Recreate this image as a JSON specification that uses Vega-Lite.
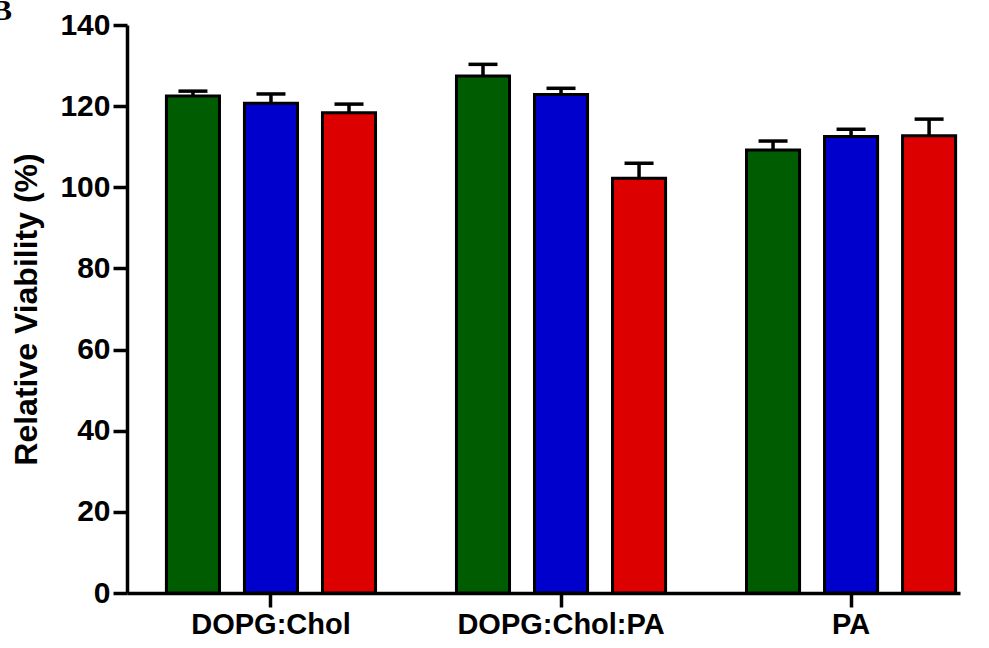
{
  "$schema": "https://vega.github.io/schema/vega-lite/v6.json",
  "autosize": {"type": "none"},
  "padding": {"left": 127, "top": 25, "right": 29, "bottom": 55},
  "width": 833,
  "height": 568,
  "background": "white",
  "title": {
    "text": "B",
    "anchor": "start",
    "frame": "group",
    "dx": -135,
    "dy": 40,
    "offset": 0,
    "baseline": "alphabetic",
    "font": "Liberation Serif",
    "fontSize": 30,
    "fontWeight": "bold",
    "color": "black"
  },
  "config": {
    "view": {"stroke": null},
    "axis": {
      "labelFont": "Liberation Sans",
      "labelFontWeight": "bold",
      "labelColor": "black",
      "labelLimit": 0,
      "titleFont": "Liberation Sans",
      "titleFontWeight": "bold",
      "titleColor": "black",
      "titleLimit": 0,
      "domainColor": "black",
      "domainWidth": 3.5,
      "tickColor": "black",
      "tickWidth": 3.5,
      "grid": false
    }
  },
  "data": {
    "values": [
      {"group": "DOPG:Chol", "bar": "1", "mean": 122.5, "upper": 123.7},
      {"group": "DOPG:Chol", "bar": "2", "mean": 120.7, "upper": 123.0},
      {"group": "DOPG:Chol", "bar": "3", "mean": 118.4, "upper": 120.5},
      {"group": "DOPG:Chol:PA", "bar": "1", "mean": 127.4, "upper": 130.3},
      {"group": "DOPG:Chol:PA", "bar": "2", "mean": 122.9, "upper": 124.4},
      {"group": "DOPG:Chol:PA", "bar": "3", "mean": 102.2, "upper": 105.9},
      {"group": "PA", "bar": "1", "mean": 109.2, "upper": 111.4},
      {"group": "PA", "bar": "2", "mean": 112.5, "upper": 114.3},
      {"group": "PA", "bar": "3", "mean": 112.7, "upper": 116.8}
    ]
  },
  "encoding": {
    "x": {
      "field": "group",
      "type": "nominal",
      "sort": null,
      "scale": {"paddingInner": 0.279, "paddingOuter": 0.0755, "align": 0.9},
      "axis": {
        "title": null,
        "labelAngle": 0,
        "labelFontSize": 29,
        "labelPadding": 3,
        "tickSize": 14
      }
    },
    "xOffset": {
      "field": "bar",
      "type": "nominal",
      "scale": {"paddingInner": 0.32, "paddingOuter": 0}
    }
  },
  "layer": [
    {
      "mark": {"type": "rule", "strokeWidth": 3.5, "color": "black"},
      "encoding": {
        "y": {"field": "mean", "type": "quantitative"},
        "y2": {"field": "upper"}
      }
    },
    {
      "mark": {"type": "tick", "orient": "horizontal", "size": 29, "thickness": 3.5, "color": "black", "opacity": 1},
      "encoding": {
        "y": {"field": "upper", "type": "quantitative"}
      }
    },
    {
      "mark": {"type": "bar", "stroke": "black", "strokeWidth": 3},
      "encoding": {
        "y": {
          "field": "mean",
          "type": "quantitative",
          "scale": {"domain": [0, 140], "nice": false},
          "axis": {
            "title": "Relative Viability (%)",
            "titleFontSize": 32,
            "titlePadding": 16,
            "labelFontSize": 30,
            "labelPadding": 3,
            "tickSize": 14,
            "values": [0, 20, 40, 60, 80, 100, 120, 140]
          }
        },
        "color": {
          "field": "bar",
          "type": "nominal",
          "scale": {"domain": ["1", "2", "3"], "range": ["#005c00", "#0000cc", "#dd0000"]},
          "legend": null
        }
      }
    }
  ]
}
